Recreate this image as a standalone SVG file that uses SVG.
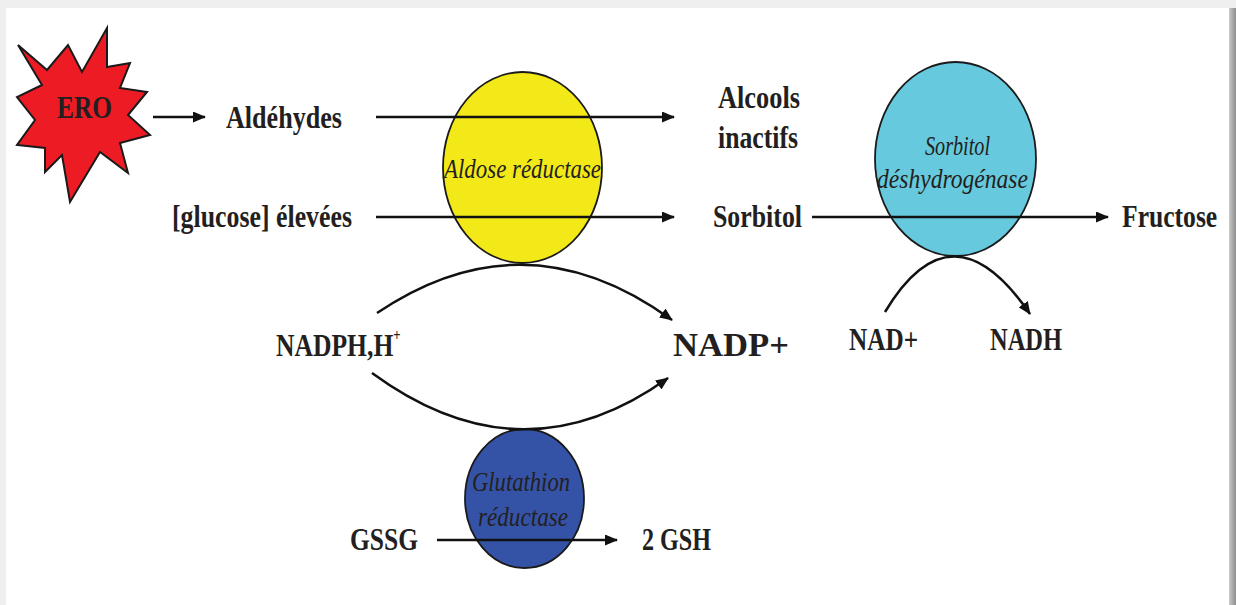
<svg xmlns="http://www.w3.org/2000/svg" width="1236" height="605" viewBox="0 0 1236 605">
  <defs>
    <linearGradient id="rs" x1="0" y1="0" x2="1" y2="0">
      <stop offset="0" stop-color="#c8c8c8"/>
      <stop offset="1" stop-color="#8e8e8e"/>
    </linearGradient>
    <marker id="ah" markerUnits="userSpaceOnUse" markerWidth="13" markerHeight="11" refX="12" refY="5.5" orient="auto">
      <path d="M0,0 L13,5.5 L0,11 z" fill="#111"/>
    </marker>
    <style>
      .t { font-family: "Liberation Serif", "Times New Roman", serif; font-weight: bold; font-size: 32px; fill: #231f20; }
      .e { font-family: "Liberation Serif", "Times New Roman", serif; font-style: italic; font-size: 28px; fill: #231f20; }
      .c { fill: none; stroke: #111; stroke-width: 2.5; }
      .en { stroke: #1a1a1a; stroke-width: 1.8; }
    </style>
  </defs>

  <rect x="0" y="0" width="1236" height="605" fill="#efefef"/>
  <rect x="6" y="8" width="1223" height="597" fill="#ffffff"/>
  <rect x="1229" y="8" width="7" height="597" fill="url(#rs)"/>

  <g id="ero">
    <polygon points="128,173 100,152 70,202 62,155 45,172 45,148 17,145 35,120 17,97 42,85 18,45 47,70 68,45 82,72 107,28 107,67 130,63 120,88 147,92 128,115 150,135 120,143" fill="#ed1c24" stroke="#1a1a1a" stroke-width="2" stroke-linejoin="miter"/>
    <text x="57" y="118" class="t" style="font-weight:600;font-size:32px" textLength="55" lengthAdjust="spacingAndGlyphs">ERO</text>
  </g>

  <g id="aldose">
    <ellipse cx="522.5" cy="167.5" rx="79.5" ry="95.5" fill="#f3e918" class="en"/>
    <text x="444" y="178" class="e" textLength="157" lengthAdjust="spacingAndGlyphs">Aldose réductase</text>
  </g>

  <g id="sdh">
    <ellipse cx="955.5" cy="159" rx="80.5" ry="97" fill="#66c9dd" class="en"/>
    <text x="925" y="155" class="e" textLength="65" lengthAdjust="spacingAndGlyphs">Sorbitol</text>
    <text x="877" y="188" class="e" textLength="151" lengthAdjust="spacingAndGlyphs">déshydrogénase</text>
  </g>

  <g id="gr">
    <ellipse cx="524.5" cy="498.5" rx="59.5" ry="69.5" fill="#3553a6" class="en"/>
    <text x="472" y="491" class="e" style="font-size:27px" textLength="98" lengthAdjust="spacingAndGlyphs">Glutathion</text>
    <text x="478" y="526" class="e" style="font-size:27px" textLength="90" lengthAdjust="spacingAndGlyphs">réductase</text>
  </g>

  <g id="aldehydes"><text x="226" y="128" class="t" textLength="116" lengthAdjust="spacingAndGlyphs">Aldéhydes</text></g>
  <g id="alcools">
    <text x="718" y="108" class="t" textLength="82" lengthAdjust="spacingAndGlyphs">Alcools</text>
    <text x="718" y="148" class="t" textLength="80" lengthAdjust="spacingAndGlyphs">inactifs</text>
  </g>
  <g id="glucose"><text x="172" y="227" class="t" textLength="180" lengthAdjust="spacingAndGlyphs">[glucose] élevées</text></g>
  <g id="sorbitol"><text x="713" y="227" class="t" textLength="89" lengthAdjust="spacingAndGlyphs">Sorbitol</text></g>
  <g id="fructose"><text class="t" transform="translate(1122,227) scale(0.8,1)">Fructose</text></g>
  <g id="nadph">
    <text class="t" transform="translate(276,356) scale(0.8,1)">NADPH,H<tspan dy="-15" style="font-size:16px">+</tspan></text>
  </g>
  <g id="nadp"><text x="673" y="356" class="t" style="font-size:34px" textLength="116" lengthAdjust="spacingAndGlyphs">NADP+</text></g>
  <g id="nad"><text x="849" y="350" class="t" textLength="69" lengthAdjust="spacingAndGlyphs">NAD+</text></g>
  <g id="nadh"><text x="990" y="350" class="t" textLength="72" lengthAdjust="spacingAndGlyphs">NADH</text></g>
  <g id="gssg"><text x="350" y="550" class="t" textLength="68" lengthAdjust="spacingAndGlyphs">GSSG</text></g>
  <g id="gsh"><text x="642" y="550" class="t" textLength="69" lengthAdjust="spacingAndGlyphs">2 GSH</text></g>

  <g id="connectors">
    <line x1="153" y1="117" x2="205" y2="117" class="c" marker-end="url(#ah)"/>
    <line x1="376" y1="117" x2="674" y2="117" class="c" marker-end="url(#ah)"/>
    <line x1="376" y1="217" x2="674" y2="217" class="c" marker-end="url(#ah)"/>
    <line x1="812" y1="217" x2="1108" y2="217" class="c" marker-end="url(#ah)"/>
    <path d="M377,313 Q525,213 672,320" class="c" marker-end="url(#ah)"/>
    <path d="M372,373 Q522,483 668,378" class="c" marker-end="url(#ah)"/>
    <path d="M885,312 Q952,200 1030,314" class="c" marker-end="url(#ah)"/>
    <line x1="437" y1="540" x2="617" y2="540" class="c" marker-end="url(#ah)"/>
  </g>
</svg>
